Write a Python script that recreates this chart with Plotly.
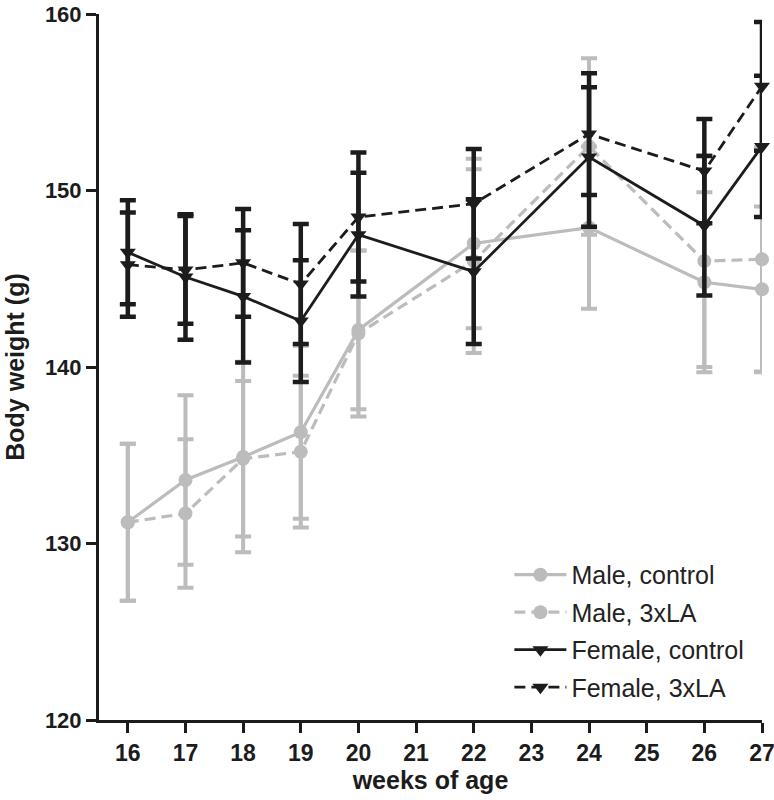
import plotly.graph_objects as go

weeks = [16, 17, 18, 19, 20, 22, 24, 26, 27]
tick_weeks = [16, 17, 18, 19, 20, 21, 22, 23, 24, 25, 26, 27]
y_ticks = [120, 130, 140, 150, 160]

male_control = [131.2, 133.6, 134.9, 136.3, 142.1, 147.0, 147.9, 144.8, 144.4]
male_control_sd = [4.45, 4.8, 5.4, 4.9, 4.5, 4.8, 4.6, 5.1, 4.7]
male_3xla = [131.2, 131.7, 134.8, 135.2, 141.9, 146.0, 152.5, 146.0, 146.1]
male_3xla_sd = [4.45, 4.2, 4.4, 4.3, 4.7, 5.2, 5.0, 6.0, 6.35]
female_control = [146.5, 145.1, 144.0, 142.6, 147.5, 145.4, 151.9, 148.0, 152.5]
female_control_sd = [2.95, 3.55, 3.75, 3.45, 3.5, 4.1, 3.95, 3.95, 4.0]
female_3xla = [145.8, 145.5, 145.9, 144.7, 148.5, 149.25, 153.2, 151.1, 155.9]
female_3xla_sd = [2.95, 3.05, 3.05, 3.4, 3.65, 3.1, 3.45, 2.95, 3.65]

GRAY = "#bcbcbc"
BLACK = "#1c1c1c"

series = [
    ("Male, control", male_control, male_control_sd, GRAY, "solid", "circle", 3.2),
    ("Male, 3xLA", male_3xla, male_3xla_sd, GRAY, "11px,6px", "circle", 3.2),
    ("Female, control", female_control, female_control_sd, BLACK, "solid", "triangle-down", 2.8),
    ("Female, 3xLA", female_3xla, female_3xla_sd, BLACK, "11px,6px", "triangle-down", 2.8),
]

fig = go.Figure()
for name, vals, sd, color, dash, sym, lw in series:
    fig.add_trace(go.Scatter(
        x=weeks, y=vals, name=name, mode="lines+markers",
        line=dict(color=color, width=lw, dash=dash),
        marker=dict(color=color, symbol=sym, size=14, line=dict(width=0)),
        error_y=dict(type="data", array=sd, visible=True, color=color,
                     thickness=4.5 if color == BLACK else 4, width=8),
        cliponaxis=False, legendgroup=name,
    ))

fig.update_layout(
    width=774, height=800,
    margin=dict(l=99, r=12, t=14, b=80, autoexpand=False),
    paper_bgcolor="white", plot_bgcolor="white",
    font=dict(family="Liberation Sans, Arial, sans-serif", color="#1c1c1c"),
    showlegend=True,
    legend=dict(x=0.619, y=0.238, xanchor="left", yanchor="top",
                font=dict(size=25, color="#222222"), bgcolor="rgba(0,0,0,0)",
                tracegroupgap=2, itemwidth=52),
    xaxis=dict(range=[15.5, 27], tickmode="array", tickvals=tick_weeks,
               ticktext=["<b>%d</b>" % w for w in tick_weeks],
               showline=True, linecolor=BLACK, linewidth=3, mirror=False,
               ticks="outside", ticklen=10, tickwidth=2.5, tickcolor=BLACK,
               showgrid=False, zeroline=False, ticklabeloverflow="allow",
               automargin=False,
               tickfont=dict(size=23, color="#1c1c1c"),
               title=dict(text="<b>weeks of age</b>", font=dict(size=25), standoff=6)),
    yaxis=dict(range=[120, 160], tickmode="array", tickvals=y_ticks,
               ticktext=["<b>%d</b>" % v for v in y_ticks],
               showline=True, linecolor=BLACK, linewidth=3,
               ticks="outside", ticklen=10, tickwidth=2.5, tickcolor=BLACK,
               showgrid=False, zeroline=False, ticklabeloverflow="allow",
               automargin=False,
               tickfont=dict(size=22, color="#1c1c1c"),
               title=dict(text="<b>Body weight (g)</b>", font=dict(size=25), standoff=14)),
)

fig.write_html("out.html", config={"displayModeBar": False},
               post_script="document.body.style.margin='0';")
